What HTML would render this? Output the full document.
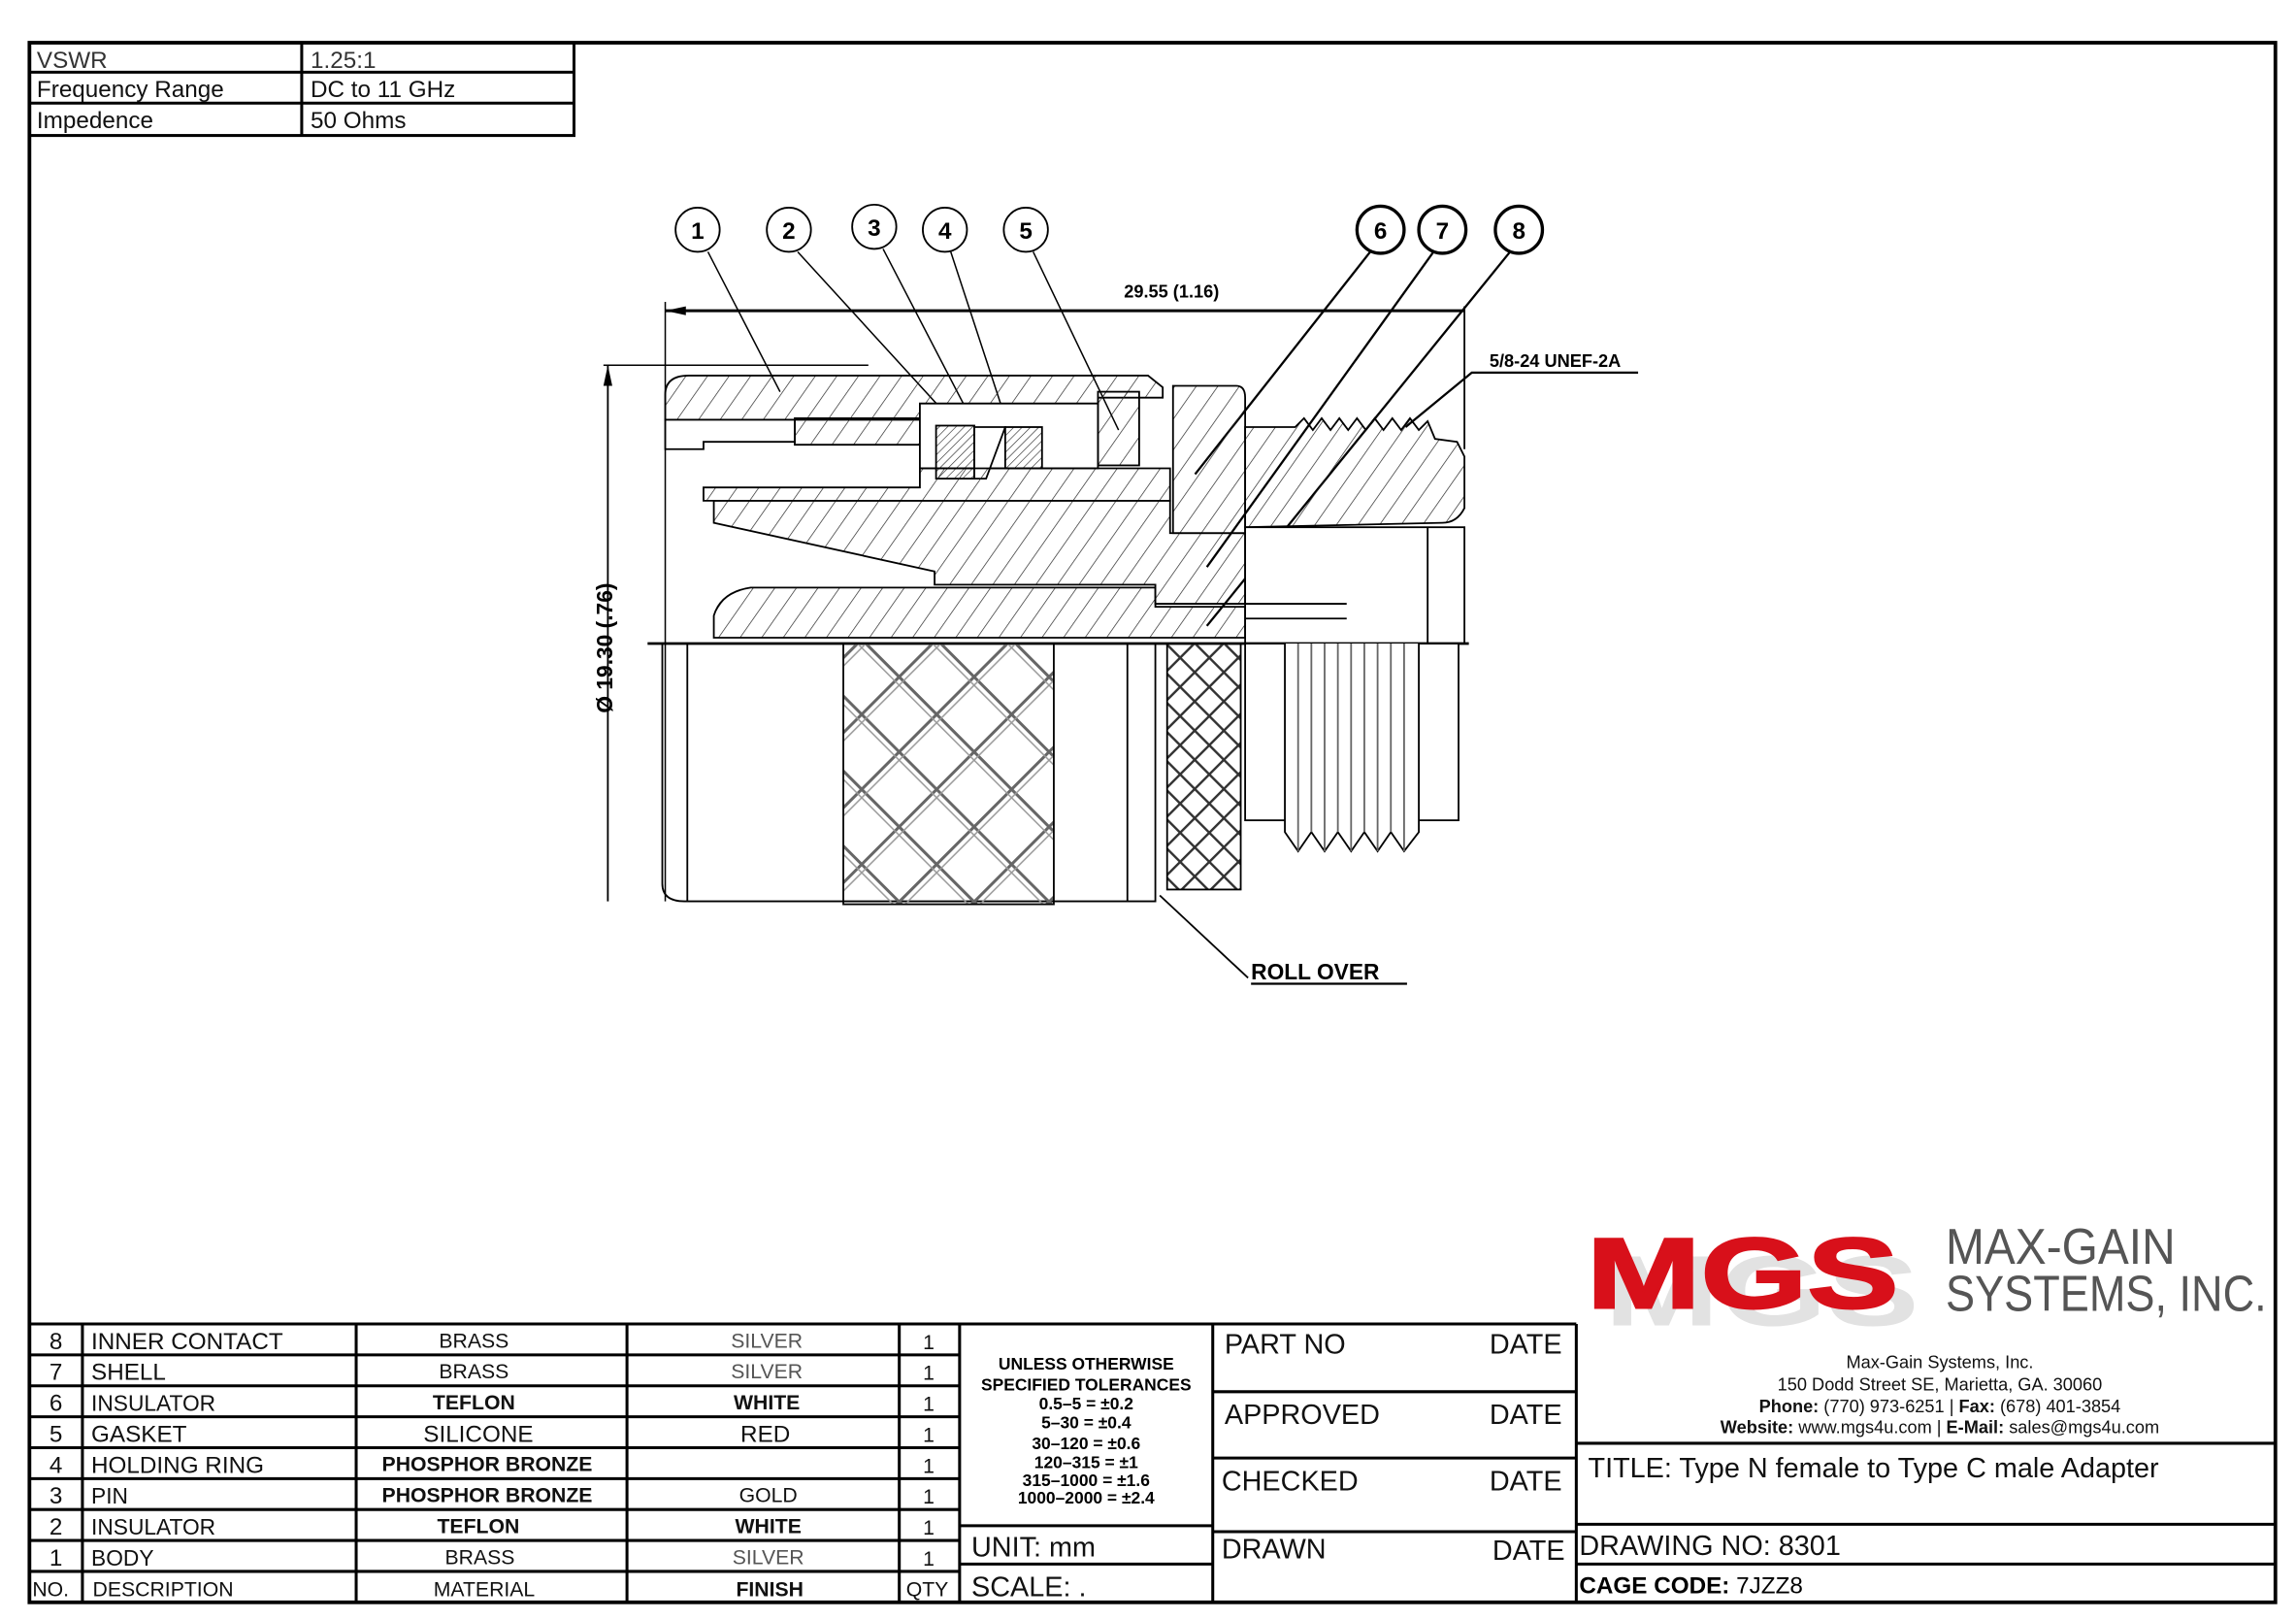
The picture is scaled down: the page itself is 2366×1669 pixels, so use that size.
<!DOCTYPE html>
<html><head><meta charset="utf-8"><style>
html,body{margin:0;padding:0;background:#fff;}
svg{display:block;}
text{font-family:"Liberation Sans",sans-serif;}
</style></head><body>
<svg width="2366" height="1669" viewBox="0 0 1560 1100" preserveAspectRatio="none" xmlns="http://www.w3.org/2000/svg">
<defs>
<pattern id="h" width="12" height="12" patternUnits="userSpaceOnUse" patternTransform="rotate(35)">
<line x1="0" y1="0" x2="0" y2="12" stroke="#222" stroke-width="0.9"/></pattern>
<pattern id="hd" width="4" height="4" patternUnits="userSpaceOnUse" patternTransform="rotate(45)">
<line x1="0" y1="0" x2="0" y2="4" stroke="#222" stroke-width="0.8"/></pattern>
<pattern id="k" width="36" height="36" patternUnits="userSpaceOnUse" patternTransform="rotate(45)">
<rect x="0" y="0" width="2" height="36" fill="#666"/><rect x="0" y="0" width="36" height="2" fill="#666"/>
<rect x="4.5" y="0" width="1" height="36" fill="#999"/><rect x="0" y="4.5" width="36" height="1" fill="#999"/></pattern>
<pattern id="k2" width="14" height="14" patternUnits="userSpaceOnUse" patternTransform="rotate(45)">
<rect x="0" y="0" width="1.6" height="14" fill="#333"/><rect x="0" y="0" width="14" height="1.6" fill="#333"/></pattern>
</defs>
<rect x="0" y="0" width="1560" height="1100" fill="#fff"/>
<rect x="20" y="29" width="1526" height="1059" fill="none" stroke="#000" stroke-width="2.5"/>
<g stroke="#000" stroke-width="2" fill="none">
<rect x="20" y="29" width="370" height="63"/>
<line x1="205" y1="29" x2="205" y2="92"/>
<line x1="20" y1="49" x2="390" y2="49"/>
<line x1="20" y1="70" x2="390" y2="70"/>
</g>
<g font-size="16" fill="#111">
<text x="25" y="46" fill="#333">VSWR</text><text x="211" y="46" fill="#333">1.25:1</text>
<text x="25" y="66">Frequency Range</text><text x="211" y="66">DC to 11 GHz</text>
<text x="25" y="87">Impedence</text><text x="211" y="87">50 Ohms</text>
</g>

<g stroke="#000" fill="none">
<line x1="452" y1="211" x2="995" y2="211" stroke-width="2"/>
<line x1="452" y1="205" x2="452" y2="612" stroke-width="1"/>
<line x1="995" y1="208" x2="995" y2="305" stroke-width="1.2"/>
<line x1="413" y1="248" x2="413" y2="612" stroke-width="1.2"/>
<line x1="410" y1="248" x2="590" y2="248" stroke-width="1"/>
</g>
<polygon points="452,211 466,208 466,214" fill="#000"/>
<polygon points="413,248 410,262 416,262" fill="#000"/>
<text x="796" y="202" font-size="12" font-weight="bold" text-anchor="middle">29.55 (1.16)</text>
<text transform="translate(416,440) rotate(-90)" font-size="15" font-weight="bold" text-anchor="middle">Ø 19.30  (.76)</text>
<text x="1012" y="249" font-size="12" font-weight="bold">5/8-24 UNEF-2A</text>
<polyline points="955,290 1000,253 1113,253" fill="none" stroke="#000" stroke-width="1.5"/>

<g fill="#fff" stroke="#000">
<circle cx="474" cy="156" r="15" stroke-width="1.2"/>
<circle cx="536" cy="156" r="15" stroke-width="1.2"/>
<circle cx="594" cy="154" r="15" stroke-width="1.2"/>
<circle cx="642" cy="156" r="15" stroke-width="1.2"/>
<circle cx="697" cy="156" r="15" stroke-width="1.2"/>
<circle cx="938" cy="156" r="16" stroke-width="2.2"/>
<circle cx="980" cy="156" r="16" stroke-width="2.2"/>
<circle cx="1032" cy="156" r="16" stroke-width="2.2"/>
</g>
<g font-size="16" font-weight="bold" text-anchor="middle">
<text x="474" y="162">1</text><text x="536" y="162">2</text><text x="594" y="160">3</text><text x="642" y="162">4</text><text x="697" y="162">5</text>
<text x="938" y="162">6</text><text x="980" y="162">7</text><text x="1032" y="162">8</text>
</g>
<g stroke="#000" stroke-width="1" fill="none">
<line x1="481" y1="171" x2="530" y2="266"/>
<line x1="542" y1="171" x2="660" y2="300"/>
<line x1="600" y1="169" x2="668" y2="300"/>
<line x1="646" y1="171" x2="690" y2="305"/>
<line x1="702" y1="171" x2="760" y2="292"/>
<line x1="931" y1="171" x2="812" y2="322" stroke-width="1.5"/>
<line x1="974" y1="171" x2="820" y2="385" stroke-width="1.5"/>
<line x1="1026" y1="171" x2="820" y2="425" stroke-width="1.5"/>
</g>

<g stroke="#000" stroke-width="1.2">
<path d="M452,285 L452,268 Q452,255 468,255 L780,255 L790,263 L790,270 L746,270 L746,274 L625,274 L625,285 Z" fill="url(#h)"/>
<path d="M452,285 L540,285 L540,300 L478,300 L478,305 L452,305 Z" fill="#fff"/>
<path d="M540,284 L625,284 L625,302 L540,302 Z" fill="url(#h)"/>
<rect x="625" y="274" width="121" height="44" fill="#fff"/>
<rect x="636" y="289" width="26" height="36" fill="url(#hd)"/>
<path d="M662,290 L683,290 L670,325 L662,325 Z" fill="#fff"/>
<rect x="683" y="290" width="25" height="28" fill="url(#hd)"/>
<rect x="746" y="266" width="28" height="50" fill="url(#h)"/>
<path d="M478,331 L625,331 L625,318 L795,318 L795,340 L478,340 Z" fill="url(#h)"/>
<path d="M797,262 L840,262 Q846,262 846,270 L846,362 L797,362 Z" fill="url(#h)"/>
<path d="M485,340 L795,340 L795,362 L846,362 L846,410 L785,410 L785,397 L635,397 L635,388 L485,355 Z" fill="url(#h)"/>
<path d="M485,433 L485,418 Q490,402 510,399 L635,399 L785,399 L785,412 L846,412 L846,433 Z" fill="url(#h)"/>
<path d="M846,290 L880,290 L886,284 L892,292 L898,284 L904,292 L910,284 L916,292 L922,284 L928,292 L934,284 L940,292 L946,284 L952,292 L958,284 L964,292 L970,286 L975,298 L990,300 L995,310 L995,345 Q990,355 980,355 L846,358 Z" fill="url(#h)"/>
<rect x="846" y="358" width="149" height="79" fill="#fff"/>
<line x1="846" y1="410" x2="915" y2="410"/><line x1="846" y1="420" x2="915" y2="420"/>
<line x1="970" y1="358" x2="970" y2="437"/>
</g>
<line x1="440" y1="437" x2="998" y2="437" stroke="#000" stroke-width="1.8"/>

<g stroke="#000" stroke-width="1.2" fill="none">
<path d="M450,437 L450,600 Q450,612 465,612 L785,612 L785,437"/>
<line x1="467" y1="437" x2="467" y2="612"/>
<line x1="766" y1="437" x2="766" y2="612"/>
<rect x="573" y="437" width="143" height="177" fill="url(#k)"/>
<rect x="793" y="437" width="50" height="167" fill="url(#k2)"/>
<rect x="846" y="437" width="145" height="120" fill="#fff"/>
<path d="M873,437 L873,565 L882,578 L891,565 L900,578 L909,565 L918,578 L927,565 L936,578 L945,565 L954,578 L964,565 L964,437" fill="#fff"/>
<line x1="882" y1="437" x2="882" y2="578" stroke="#666"/><line x1="891" y1="437" x2="891" y2="565" stroke="#666"/>
<line x1="900" y1="437" x2="900" y2="578" stroke="#666"/><line x1="909" y1="437" x2="909" y2="565" stroke="#666"/>
<line x1="918" y1="437" x2="918" y2="578" stroke="#666"/><line x1="927" y1="437" x2="927" y2="565" stroke="#666"/>
<line x1="936" y1="437" x2="936" y2="578" stroke="#666"/><line x1="945" y1="437" x2="945" y2="565" stroke="#666"/>
<line x1="954" y1="437" x2="954" y2="578" stroke="#666"/>
<line x1="788" y1="608" x2="848" y2="664"/>
</g>
<text x="850" y="665" font-size="15" font-weight="bold">ROLL OVER</text>
<line x1="850" y1="668" x2="956" y2="668" stroke="#000" stroke-width="1.5"/>

<g stroke="#000" stroke-width="2" fill="none">
<line x1="20" y1="899" x2="1071" y2="899"/>
<line x1="20" y1="920" x2="652" y2="920"/><line x1="20" y1="941" x2="652" y2="941"/>
<line x1="20" y1="962" x2="652" y2="962"/><line x1="20" y1="983" x2="652" y2="983"/>
<line x1="20" y1="1004" x2="652" y2="1004"/><line x1="20" y1="1025" x2="652" y2="1025"/>
<line x1="20" y1="1046" x2="652" y2="1046"/><line x1="20" y1="1067" x2="652" y2="1067"/>
<line x1="56" y1="899" x2="56" y2="1088"/><line x1="242" y1="899" x2="242" y2="1088"/>
<line x1="426" y1="899" x2="426" y2="1088"/><line x1="611" y1="899" x2="611" y2="1088"/>
<line x1="652" y1="899" x2="652" y2="1088"/><line x1="824" y1="899" x2="824" y2="1088"/>
<line x1="652" y1="1036" x2="824" y2="1036"/><line x1="652" y1="1062" x2="824" y2="1062"/>
<line x1="824" y1="945" x2="1071" y2="945"/><line x1="824" y1="990" x2="1071" y2="990"/>
<line x1="824" y1="1040" x2="1071" y2="1040"/>
<line x1="1071" y1="899" x2="1071" y2="1088"/>
<line x1="1071" y1="980" x2="1546" y2="980"/><line x1="1071" y1="1035" x2="1546" y2="1035"/>
<line x1="1071" y1="1062" x2="1546" y2="1062"/>
</g>
<g font-size="16" fill="#111">
<text x="38" y="916" text-anchor="middle">8</text><text x="38" y="937" text-anchor="middle">7</text>
<text x="38" y="958" text-anchor="middle">6</text><text x="38" y="979" text-anchor="middle">5</text>
<text x="38" y="1000" text-anchor="middle">4</text><text x="38" y="1021" text-anchor="middle">3</text>
<text x="38" y="1042" text-anchor="middle">2</text><text x="38" y="1063" text-anchor="middle">1</text>
<text x="62" y="916">INNER CONTACT</text><text x="62" y="937">SHELL</text>
<text x="62" y="958" font-size="15">INSULATOR</text><text x="62" y="979">GASKET</text>
<text x="62" y="1000">HOLDING RING</text><text x="62" y="1021" font-size="15">PIN</text>
<text x="62" y="1042" font-size="15">INSULATOR</text><text x="62" y="1063" font-size="15">BODY</text>
<text x="22" y="1084" font-size="14">NO.</text><text x="63" y="1084" font-size="14">DESCRIPTION</text>
</g>
<g font-size="14" text-anchor="middle" fill="#111">
<text x="322" y="915">BRASS</text><text x="322" y="936">BRASS</text>
<text x="322" y="957" font-weight="bold">TEFLON</text><text x="325" y="979" font-size="16">SILICONE</text>
<text x="331" y="999" font-weight="bold">PHOSPHOR  BRONZE</text><text x="331" y="1020" font-weight="bold">PHOSPHOR  BRONZE</text>
<text x="325" y="1041" font-weight="bold">TEFLON</text><text x="326" y="1062">BRASS</text>
<text x="329" y="1084">MATERIAL</text>
<text x="521" y="915" fill="#555">SILVER</text><text x="521" y="936" fill="#555">SILVER</text>
<text x="521" y="957" font-weight="bold">WHITE</text><text x="520" y="979" font-size="16">RED</text>
<text x="522" y="1020">GOLD</text><text x="522" y="1041" font-weight="bold">WHITE</text>
<text x="522" y="1062" fill="#555">SILVER</text><text x="523" y="1084" font-weight="bold">FINISH</text>
<text x="631" y="916">1</text><text x="631" y="937">1</text><text x="631" y="958">1</text><text x="631" y="979">1</text>
<text x="631" y="1000">1</text><text x="631" y="1021">1</text><text x="631" y="1042">1</text><text x="631" y="1063">1</text>
<text x="630" y="1084">QTY</text>
</g>
<g font-size="11.5" font-weight="bold" text-anchor="middle">
<text x="738" y="930">UNLESS  OTHERWISE</text><text x="738" y="944">SPECIFIED  TOLERANCES</text>
<text x="738" y="957">0.5–5  =  ±0.2</text><text x="738" y="970">5–30  =  ±0.4</text>
<text x="738" y="984">30–120  =  ±0.6</text><text x="738" y="997">120–315  =  ±1</text>
<text x="738" y="1009">315–1000  =  ±1.6</text><text x="738" y="1021">1000–2000  =  ±2.4</text>
</g>
<g font-size="19" fill="#111">
<text x="660" y="1057">UNIT:  mm</text><text x="660" y="1084">SCALE:  .</text>
<text x="832" y="919">PART  NO</text><text x="1012" y="919">DATE</text>
<text x="832" y="967">APPROVED</text><text x="1012" y="967">DATE</text>
<text x="830" y="1012">CHECKED</text><text x="1012" y="1012">DATE</text>
<text x="830" y="1058">DRAWN</text><text x="1014" y="1059">DATE</text>
<text x="1079" y="1003">TITLE: Type N female to Type C male Adapter</text>
<text x="1073" y="1056">DRAWING  NO: 8301</text>
</g>
<text x="1073" y="1082" font-size="16"><tspan font-weight="bold">CAGE CODE:</tspan> 7JZZ8</text>

<text x="1090" y="900" font-family="Liberation Serif,serif" font-weight="bold" font-size="68" fill="#e2e2e2" textLength="214" lengthAdjust="spacingAndGlyphs">MGS</text>
<text x="1078" y="888" font-family="Liberation Serif,serif" font-weight="bold" font-size="68" fill="#d8101a" stroke="#d8101a" stroke-width="1.5" textLength="212" lengthAdjust="spacingAndGlyphs">MGS</text>
<text x="1322" y="858" font-size="34" fill="#555" textLength="156" lengthAdjust="spacingAndGlyphs">MAX-GAIN</text>
<text x="1322" y="890" font-size="34" fill="#555" textLength="218" lengthAdjust="spacingAndGlyphs">SYSTEMS, INC.</text>
<g font-size="12" text-anchor="middle" fill="#111">
<text x="1318" y="929">Max-Gain Systems, Inc.</text>
<text x="1318" y="944">150 Dodd Street SE, Marietta, GA. 30060</text>
<text x="1318" y="959"><tspan font-weight="bold">Phone:</tspan> (770) 973-6251 | <tspan font-weight="bold">Fax:</tspan> (678) 401-3854</text>
<text x="1318" y="973"><tspan font-weight="bold">Website:</tspan> www.mgs4u.com | <tspan font-weight="bold">E-Mail:</tspan> sales@mgs4u.com</text>
</g>
</svg>
</body></html>
